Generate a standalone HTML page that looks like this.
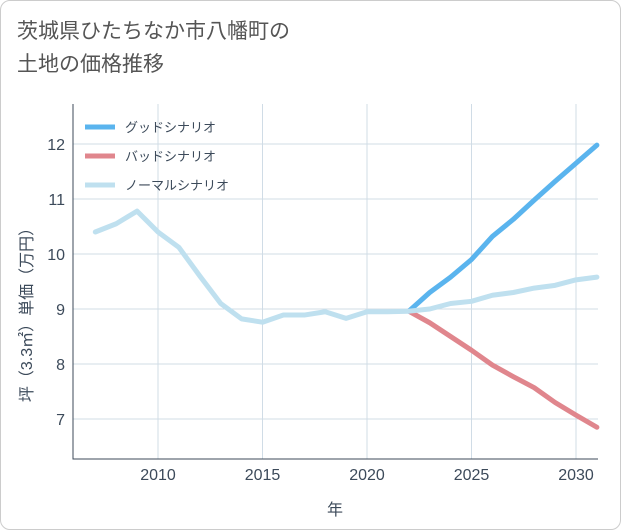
<!DOCTYPE html>
<html><head><meta charset="utf-8"><style>
body{margin:0;background:#fff;font-family:"Liberation Sans","Noto Sans CJK JP",sans-serif;}
#wrap{position:relative;width:619px;height:528px;border:1px solid #ccc;border-radius:10px;overflow:hidden;}
#title{position:absolute;left:16px;top:14px;font-size:21px;line-height:33px;color:#555;}
svg{position:absolute;left:0;top:0;}
</style></head><body>
<div id="wrap">
<div id="title">茨城県ひたちなか市八幡町の<br>土地の価格推移</div>
<svg id="c" width="621" height="530"></svg>
</div>
<script>
const normalYears=[2007,2008,2009,2010,2011,2012,2013,2014,2015,2016,2017,2018,2019,2020,2021,2022,2023,2024,2025,2026,2027,2028,2029,2030,2031];
const normalVals=[10.4,10.55,10.78,10.4,10.12,9.6,9.1,8.82,8.76,8.89,8.89,8.95,8.83,8.95,8.95,8.96,9.0,9.1,9.14,9.25,9.3,9.38,9.43,9.53,9.58];
const scenYears=[2022,2023,2024,2025,2026,2027,2028,2029,2030,2031];
const goodVals=[8.96,9.3,9.58,9.9,10.32,10.63,10.98,11.32,11.65,11.98];
const badVals=[8.96,8.75,8.5,8.25,7.98,7.77,7.57,7.3,7.07,6.85];
const xTicks=[2010,2015,2020,2025,2030];
const yTicks=[7,8,9,10,11,12];
const NS="http://www.w3.org/2000/svg";
const svg=document.getElementById('c');
const L=72,R=597,T=103,B=458;
const xs=y=>157+(y-2010)*20.9;
const ys=v=>143+(12-v)*55;
function mk(t,a){const e=document.createElementNS(NS,t);for(const k in a)e.setAttribute(k,a[k]);svg.appendChild(e);return e;}
const bg=mk('rect',{x:L,y:T,width:R-L,height:B-T,fill:'#fff'});


for(const t of xTicks){
 const g=mk('line',{x1:xs(t),x2:xs(t),y1:T,y2:B,stroke:'#d0dce6','stroke-width':1});
 
 
 const l=mk('text',{x:xs(t),y:B+21,'text-anchor':'middle','font-size':16,fill:'#3c4a5a'});l.textContent=t;
 
 
}
for(const t of yTicks){
 const g=mk('line',{x1:L,x2:R,y1:ys(t),y2:ys(t),stroke:'#d0dce6','stroke-width':1});
 
 
 const l=mk('text',{x:L-8,y:ys(t)+6,'text-anchor':'end','font-size':16,fill:'#3c4a5a'});l.textContent=t;
 
 
}
const ax=mk('path',{d:`M${L} ${T}V${B}H${R}`,fill:'none',stroke:'#3c4a5a','stroke-width':1});


function line(xa,va,col,name){
 const d=xa.map((x,i)=>(i?'L':'M')+xs(x)+' '+ys(va[i])).join('');
 const p=mk('path',{d,fill:'none',stroke:col,'stroke-width':5,'stroke-linejoin':'round','stroke-linecap':'round'});
 
 
}
line(scenYears,badVals,'#e0868d','bad-scenario-line');
line(scenYears,goodVals,'#5ab4ee','good-scenario-line');
line(normalYears,normalVals,'#bfe0ef','normal-scenario-line');
const leg=[['グッドシナリオ','#5ab4ee'],['バッドシナリオ','#e0868d'],['ノーマルシナリオ','#bfe0ef']];
leg.forEach((e,i)=>{
 const y=126+i*29;
 const s=mk('line',{x1:84,x2:114,y1:y,y2:y,stroke:e[1],'stroke-width':5});
 
 
 const t=mk('text',{x:124,y:y+5,'font-size':13,fill:'#3c4a5a'});t.textContent=e[0];
 
 
});
const xt=mk('text',{x:334,y:514,'text-anchor':'middle','font-size':16,fill:'#3c4a5a'});xt.textContent='年';


const yt=mk('text',{x:0,y:0,'text-anchor':'middle','font-size':16,fill:'#3c4a5a',transform:'translate(31,310) rotate(-90)'});yt.textContent='坪（3.3㎡）単価（万円）';


</script>
</body></html>
